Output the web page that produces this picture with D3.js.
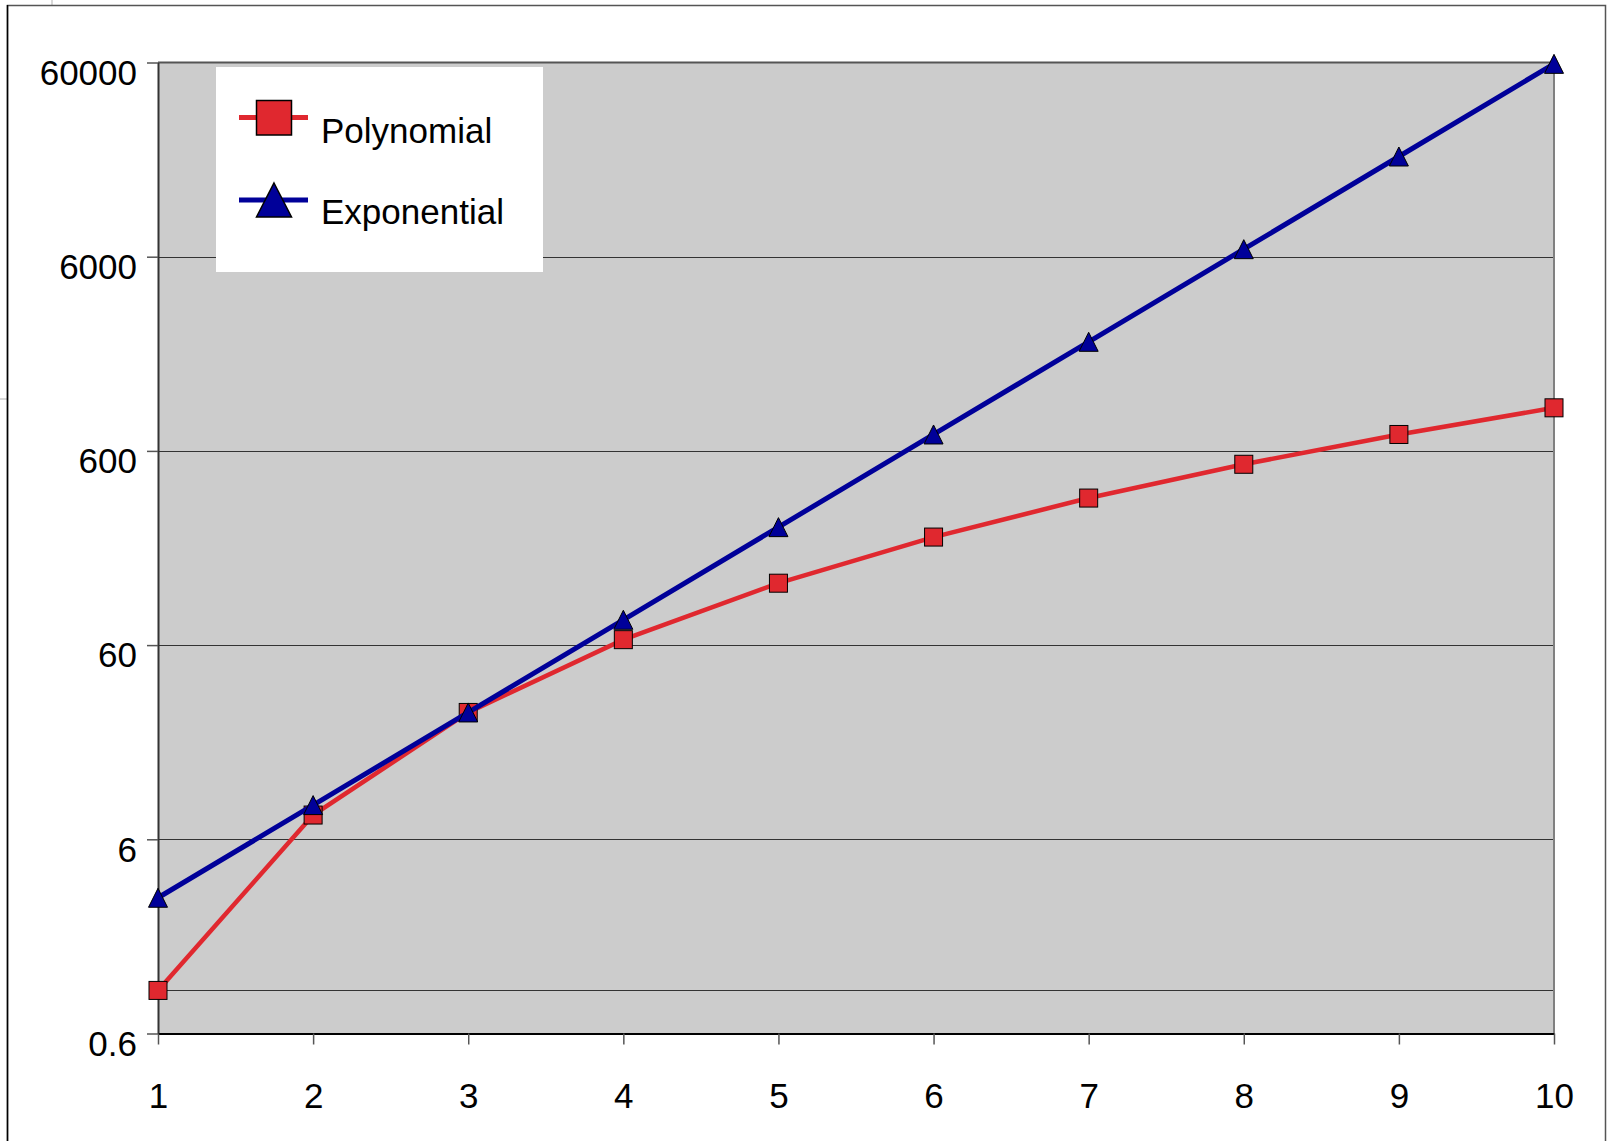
<!DOCTYPE html>
<html>
<head>
<meta charset="utf-8">
<script src="https://cdn.jsdelivr.net/npm/d3@7"></script>
<style>
  body { margin: 0; background: #fff; }
  text { font-family: "Liberation Sans", Arial, sans-serif; fill: #000; }
</style>
</head>
<body>
<svg id="chart"></svg>
<script>
// Polynomial vs exponential growth, log y axis

const xValues = [1, 2, 3, 4, 5, 6, 7, 8, 9, 10];
const polynomial = [1, 8, 27, 64, 125, 216, 343, 512, 729, 1000];
const exponential = [3, 9, 27, 81, 243, 729, 2187, 6561, 19683, 59049];
const yTicks = [0.6, 6, 60, 600, 6000, 60000];
const gridValues = [1, 6, 60, 600, 6000];
const seriesNames = ["Polynomial", "Exponential"];

const width = 1607;
const height = 1141;
const plot = { left: 158, right: 1554, top: 62.5, bottom: 1033.5 };

const svg = d3.select("#chart")
    .attr("width", width)
    .attr("height", height);

const x = d3.scaleLinear().domain([1, 10]).range([plot.left, plot.right]);
const y = d3.scaleLog().domain([0.6, 60000]).range([plot.bottom, plot.top]);

// outer frame + stray bits from the spreadsheet
svg.append("line").attr("x1", 52).attr("x2", 52).attr("y1", 0).attr("y2", 5)
    .attr("stroke", "#d8d8d8").attr("stroke-width", 2);
svg.append("line").attr("x1", 0).attr("x2", 7).attr("y1", 399).attr("y2", 399)
    .attr("stroke", "#d8d8d8").attr("stroke-width", 2);
svg.append("path")
    .attr("d", `M7.5,${height} V5.5 H1605.5 V${height}`)
    .attr("fill", "none").attr("stroke", "#555").attr("stroke-width", 1.5);
svg.append("line").attr("x1", 7.5).attr("x2", 7.5).attr("y1", 5).attr("y2", height)
    .attr("stroke", "#000").attr("stroke-width", 1.5);

// plot area
svg.append("rect")
    .attr("x", plot.left).attr("y", plot.top)
    .attr("width", plot.right - plot.left).attr("height", plot.bottom - plot.top)
    .attr("fill", "#cccccc");

svg.append("g").selectAll("line")
    .data(gridValues)
    .enter().append("line")
    .attr("x1", plot.left).attr("x2", plot.right)
    .attr("y1", d => Math.round(y(d)) + 0.5).attr("y2", d => Math.round(y(d)) + 0.5)
    .attr("stroke", "#333").attr("stroke-width", 1);

// borders
svg.append("line").attr("x1", plot.left).attr("x2", plot.right)
    .attr("y1", plot.top).attr("y2", plot.top)
    .attr("stroke", "#555").attr("stroke-width", 2);
svg.append("line").attr("x1", plot.right).attr("x2", plot.right)
    .attr("y1", plot.top).attr("y2", plot.bottom)
    .attr("stroke", "#808080").attr("stroke-width", 2);

// y axis
const yAxis = svg.append("g")
    .attr("transform", `translate(${plot.left},0)`)
    .call(d3.axisLeft(y).tickValues(yTicks).tickSize(11).tickSizeOuter(0)
        .tickFormat(d => String(d)));
yAxis.select(".domain").attr("stroke", "#333").attr("stroke-width", 2);
yAxis.selectAll(".tick line").attr("stroke", "#555").attr("stroke-width", 1.5);
yAxis.selectAll(".tick text")
    .attr("x", -21).attr("dy", "0.62em")
    .style("font-size", "35px")
    .style("font-family", "'Liberation Sans', Arial, sans-serif")
    .attr("fill", "#000");

// x axis
const xAxis = svg.append("g")
    .attr("transform", `translate(0,${plot.bottom})`)
    .call(d3.axisBottom(x).tickValues(xValues).tickSize(11).tickSizeOuter(0)
        .tickFormat(d3.format("d")));
xAxis.select(".domain").attr("stroke", "#000").attr("stroke-width", 2);
xAxis.selectAll(".tick line").attr("stroke", "#555").attr("stroke-width", 1.5);
xAxis.selectAll(".tick text")
    .attr("y", 0).attr("dy", 74.5)
    .style("font-size", "35px")
    .style("font-family", "'Liberation Sans', Arial, sans-serif")
    .attr("fill", "#000");

const line = d3.line()
    .x((d, i) => x(xValues[i]))
    .y(d => y(d));

const red = "#e0282f";
const blue = "#000099";

// polynomial
svg.append("path")
    .datum(polynomial)
    .attr("d", line)
    .attr("fill", "none")
    .attr("stroke", red)
    .attr("stroke-width", 4.5);

svg.append("g").selectAll("rect")
    .data(polynomial)
    .enter().append("rect")
    .attr("x", (d, i) => x(xValues[i]) - 9)
    .attr("y", d => y(d) - 9)
    .attr("width", 18).attr("height", 18)
    .attr("fill", red).attr("stroke", "#000").attr("stroke-width", 1);

// exponential
svg.append("path")
    .datum(exponential)
    .attr("d", line)
    .attr("fill", "none")
    .attr("stroke", blue)
    .attr("stroke-width", 5);

const tri = d3.symbol().type(d3.symbolTriangle);
svg.append("g").selectAll("path")
    .data(exponential)
    .enter().append("path")
    .attr("d", "M0,-9.5 L9.5,9.5 L-9.5,9.5 Z")
    .attr("transform", (d, i) => `translate(${x(xValues[i])},${y(d)})`)
    .attr("fill", blue).attr("stroke", "#000").attr("stroke-width", 1);

// legend
const legend = svg.append("g");
legend.append("rect")
    .attr("x", 216).attr("y", 67).attr("width", 327).attr("height", 205)
    .attr("fill", "#fff");

const legendRows = [
    { name: seriesNames[0], color: red, lineY: 117.5, textY: 143, shape: "square" },
    { name: seriesNames[1], color: blue, lineY: 200, textY: 224, shape: "triangle" }
];

legendRows.forEach(r => {
    legend.append("line")
        .attr("x1", 239).attr("x2", 308)
        .attr("y1", r.lineY).attr("y2", r.lineY)
        .attr("stroke", r.color).attr("stroke-width", 5);
    if (r.shape === "square") {
        legend.append("rect")
            .attr("x", 256.5).attr("y", 100.5).attr("width", 35).attr("height", 34.5)
            .attr("fill", r.color).attr("stroke", "#000").attr("stroke-width", 1.5);
    } else {
        legend.append("path")
            .attr("d", "M274,183 L291.5,217 L256.5,217 Z")
            .attr("fill", r.color).attr("stroke", "#000").attr("stroke-width", 1.5);
    }
    legend.append("text")
        .attr("x", 321).attr("y", r.textY)
        .style("font-size", "35px")
        .text(r.name);
});
</script>
</body>
</html>
